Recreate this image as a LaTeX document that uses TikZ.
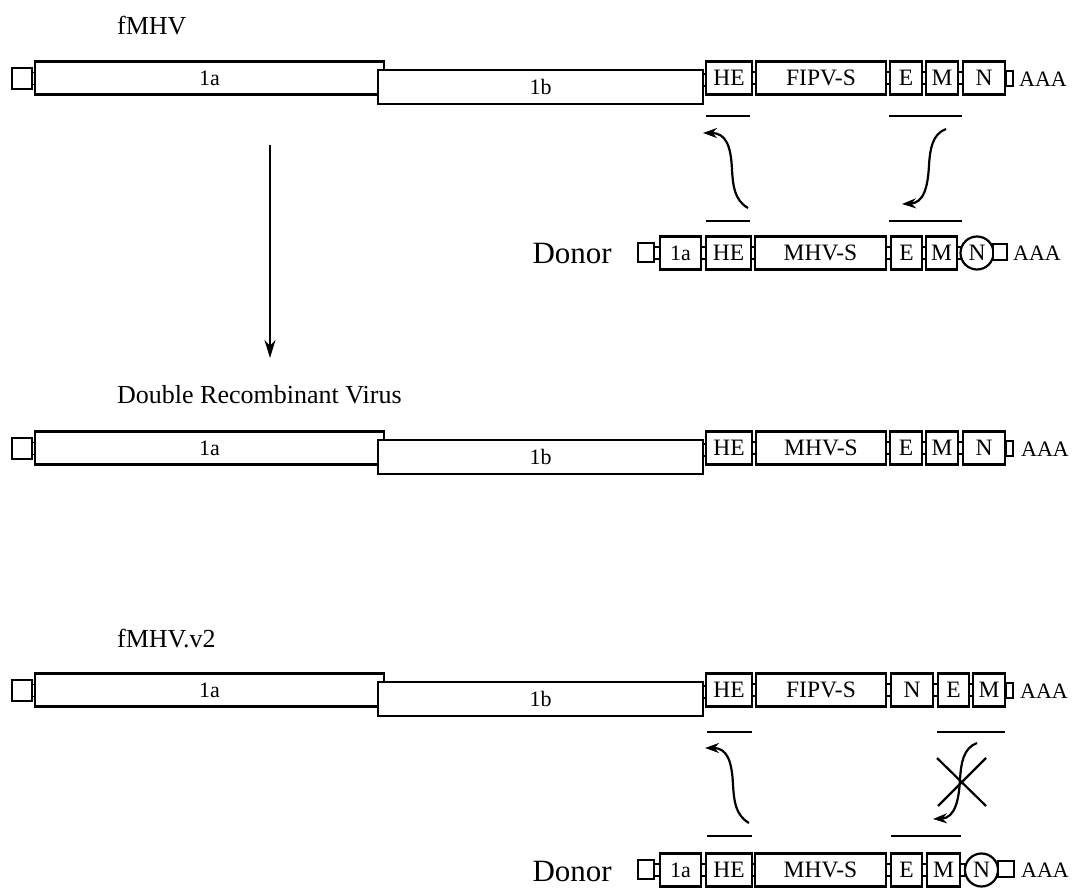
\documentclass[tikz,border=0pt]{standalone}
\usepackage{fontspec}
\setmainfont{Liberation Serif}
\usetikzlibrary{arrows.meta}
\newcommand\gn[7][]{%
  \pgfmathsetmacro\gw{#4-#3}\pgfmathsetmacro\gx{(#3+#4)/2}%
  \node[box,minimum width=\gw pt,minimum height=#6pt,#1] (#2) at (\gx,#5) {#7};}
\newcommand\jn[3]{\draw[junc] (#1,#3-6) rectangle (#2,#3+6);}
\begin{document}
\begin{tikzpicture}[x=1pt,y=-1pt,
  box/.style={draw,line width=2.2pt,fill=white,inner sep=0pt,
    text height=15.5pt,text depth=0pt,font=\fontsize{23.5}{24}\selectfont},
  orf/.style={font=\fontsize{22}{22}\selectfont},
  nc/.style={draw,circle,line width=2.2pt,fill=white,inner sep=0pt,minimum size=33pt,
    text height=15.5pt,text depth=0pt,font=\fontsize{23.5}{24}\selectfont},
  junc/.style={draw,line width=1.5pt},
  bar/.style={line width=2.4pt},
  carrow/.style={line width=2.2pt,-{Stealth[length=14pt,width=10pt]}},
  title/.style={anchor=base west,inner sep=0pt,font=\fontsize{26}{26}\selectfont},
  donor/.style={anchor=base east,inner sep=0pt,font=\fontsize{31}{31}\selectfont},
  tail/.style={anchor=west,inner sep=0pt,font=\fontsize{22}{22}\selectfont}]
\useasboundingbox (0,0) rectangle (1077,890);

% ---------------- Row 1: fMHV
\node[title] (t1) at (117,35) {fMHV};
\gn{s1}{12}{32}{78.5}{21}{}
\jn{32}{35}{78.5}
\gn[orf]{a1}{35}{384}{78}{33}{1a}
\gn[orf]{b1}{378}{703}{87}{34}{1b}
\jn{703}{706}{80}
\gn{he1}{706}{752}{78}{33}{HE}
\jn{752}{756}{78}
\gn{s1g}{756}{886}{78}{33}{FIPV-S}
\jn{886}{890}{78}
\gn{e1}{890}{922}{78}{33}{E}
\jn{922}{926}{78}
\gn{m1}{926}{958}{78}{33}{M}
\jn{958}{963}{78}
\gn{n1}{963}{1005}{78}{33}{N}
\gn{z1}{1006}{1013}{78.5}{13}{}
\node[tail] (aaa1) at (1019,79) {AAA};

% bars and exchanges row 1
\coordinate (p1a) at (706,116); \coordinate (p1b) at (750,116);
\coordinate (p1c) at (889,116); \coordinate (p1d) at (962,116);
\coordinate (q1a) at (706,221); \coordinate (q1b) at (750,221);
\coordinate (q1c) at (889,221); \coordinate (q1d) at (962,221);
\draw[bar] (p1a) -- (p1b); \draw[bar] (p1c) -- (p1d);
\draw[bar] (q1a) -- (q1b); \draw[bar] (q1c) -- (q1d);
\coordinate (l1s) at (748,208); \coordinate (l1e) at (703,133);
\coordinate (r1s) at (946,129); \coordinate (r1e) at (902,204);
\draw[carrow] (l1s) .. controls (734,200) and (733,185) .. (732,170)
  .. controls (731,146) and (726,133) .. (l1e);
\draw[carrow] (r1s) .. controls (932,134) and (930,150) .. (929,165)
  .. controls (928,186) and (924,203) .. (r1e);

% Donor row 1
\node[donor] (d1) at (612,264) {Donor};
\gn{ds1}{638}{654}{252.5}{19}{}
\jn{654}{660}{253}
\gn[orf]{da1}{660}{701}{253}{33}{1a}
\jn{701}{706}{253}
\gn{dhe1}{706}{751}{253}{33}{HE}
\jn{751}{755}{253}
\gn{dms1}{755}{886}{253}{33}{MHV-S}
\jn{886}{891}{253}
\gn{de1}{891}{922}{253}{33}{E}
\jn{922}{926}{253}
\gn{dm1}{926}{957}{253}{33}{M}
\jn{957}{961}{253}
\node[nc] (dn1) at (977,253) {N};
\gn{dz1}{993}{1007}{252}{13}{}
\node[tail] (daaa1) at (1013,253) {AAA};

% big arrow
\coordinate (va) at (270,145); \coordinate (vb) at (270,358);
\draw[line width=2pt,-{Stealth[length=18pt,width=11pt]}] (va) -- (vb);

% ---------------- Row 2: Double Recombinant Virus
\node[title] (t2) at (117,404) {Double Recombinant Virus};
\gn{s2}{12}{32}{448.5}{21}{}
\jn{32}{35}{448.5}
\gn[orf]{a2}{35}{384}{448}{33}{1a}
\gn[orf]{b2}{378}{703}{457}{34}{1b}
\jn{703}{706}{450}
\gn{he2}{706}{752}{448}{33}{HE}
\jn{752}{756}{448}
\gn{s2g}{756}{886}{448}{33}{MHV-S}
\jn{886}{890}{448}
\gn{e2}{890}{922}{448}{33}{E}
\jn{922}{926}{448}
\gn{m2}{926}{958}{448}{33}{M}
\jn{958}{963}{448}
\gn{n2}{963}{1005}{448}{33}{N}
\gn{z2}{1006}{1013}{448.5}{13}{}
\node[tail] (aaa2) at (1021,449) {AAA};

% ---------------- Row 3: fMHV.v2
\node[title] (t3) at (117,647) {fMHV.v2};
\gn{s3}{12}{32}{690.5}{21}{}
\jn{32}{35}{690.5}
\gn[orf]{a3}{35}{384}{690}{33}{1a}
\gn[orf]{b3}{378}{703}{699}{34}{1b}
\jn{703}{706}{692}
\gn{he3}{706}{752}{690}{33}{HE}
\jn{752}{756}{690}
\gn{s3g}{756}{886}{690}{33}{FIPV-S}
\jn{886}{891}{690}
\gn{n3}{891}{933}{690}{33}{N}
\jn{933}{938}{690}
\gn{e3}{938}{969}{690}{33}{E}
\jn{969}{973}{690}
\gn{m3}{973}{1005}{690}{33}{M}
\gn{z3}{1006}{1013}{690.5}{13}{}
\node[tail] (aaa3) at (1020,691) {AAA};

% bars and exchanges row 3
\coordinate (p3a) at (707,732); \coordinate (p3b) at (752,732);
\coordinate (p3c) at (937,732); \coordinate (p3d) at (1005,732);
\coordinate (q3a) at (707,836); \coordinate (q3b) at (752,836);
\coordinate (q3c) at (891,836); \coordinate (q3d) at (961,836);
\draw[bar] (p3a) -- (p3b); \draw[bar] (p3c) -- (p3d);
\draw[bar] (q3a) -- (q3b); \draw[bar] (q3c) -- (q3d);
\begin{scope}[shift={(1,615)}]
  \coordinate (l3s) at (748,208); \coordinate (l3e) at (704,133);
  \draw[carrow] (l3s) .. controls (734,200) and (733,185) .. (732,170)
    .. controls (731,146) and (726,133) .. (l3e);
\end{scope}
\begin{scope}[shift={(31,614)}]
  \coordinate (r3s) at (946,129); \coordinate (r3e) at (902,205);
  \draw[carrow] (r3s) .. controls (932,134) and (930,150) .. (929,165)
    .. controls (928,186) and (924,204) .. (r3e);
\end{scope}
\coordinate (x1) at (937,758); \coordinate (x2) at (986,806);
\coordinate (x3) at (986,758); \coordinate (x4) at (938,806);
\draw[line width=2.2pt] (x1) -- (x2);
\draw[line width=2.2pt] (x3) -- (x4);

% Donor row 2 (bottom)
\node[donor] (d2) at (612,881) {Donor};
\gn{ds2}{638}{654}{869.5}{19}{}
\jn{654}{660}{870}
\gn[orf]{da2}{660}{701}{870}{33}{1a}
\jn{701}{706}{870}
\gn{dhe2}{706}{752}{870}{33}{HE}
\jn{752}{755}{870}
\gn{dms2}{755}{886}{870}{33}{MHV-S}
\jn{886}{891}{870}
\gn{de2}{891}{922}{870}{33}{E}
\jn{922}{927}{870}
\gn{dm2}{927}{960}{870}{33}{M}
\jn{960}{965}{870}
\node[nc] (dn2) at (981.5,870) {N};
\gn{dz2}{998}{1014}{869}{13}{}
\node[tail] (daaa2) at (1021,870) {AAA};
\end{tikzpicture}
\end{document}
